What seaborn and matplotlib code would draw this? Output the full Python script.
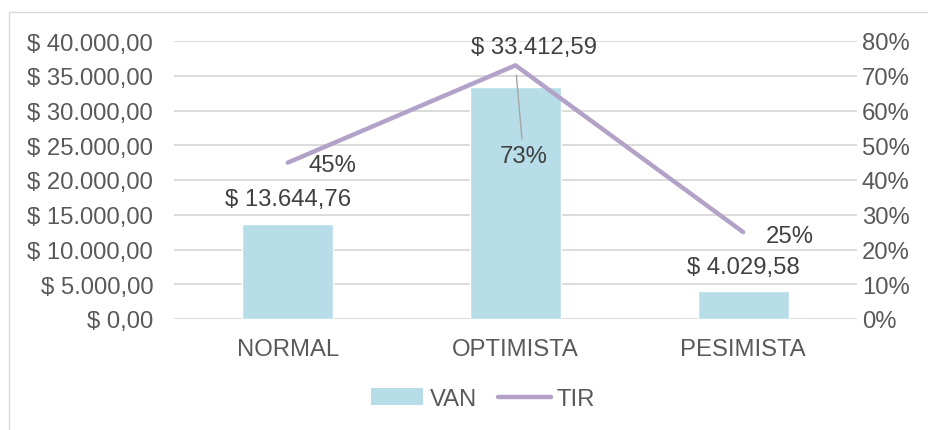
import matplotlib
matplotlib.use("Agg")
import matplotlib.pyplot as plt
from matplotlib.patches import Rectangle, Patch
from matplotlib.lines import Line2D
from matplotlib.ticker import FuncFormatter, MultipleLocator
import seaborn as sns
import pandas as pd

escenarios = ["NORMAL", "OPTIMISTA", "PESIMISTA"]
van = [13644.76, 33412.59, 4029.58]
tir = [0.45, 0.73, 0.25]

BAR_COLOR = "#b7dde8"
LINE_COLOR = "#b3a2c7"
TEXT_COLOR = "#404040"
TICK_COLOR = "#595959"
GRID_COLOR = "#d9d9d9"
FS = 17.2

sns.set_theme(style="white")
plt.rcParams["font.family"] = ["Liberation Sans", "DejaVu Sans"]


def moneda(v):
    s = f"{v:,.2f}"
    s = s.replace(",", "X").replace(".", ",").replace("X", ".")
    return f"$ {s}"


df = pd.DataFrame({"pos": range(len(escenarios)), "escenario": escenarios,
                   "VAN": van, "TIR": tir})

fig = plt.figure(figsize=(9.29, 4.31), dpi=100)
fig.patches.append(Rectangle((9 / 929, -0.05), 1.2, 1 - 13 / 431 + 0.05,
                             transform=fig.transFigure, fill=False,
                             edgecolor="#d9d9d9", linewidth=1.0))

ax = fig.add_axes([174 / 929, 1 - 320 / 431, (857 - 174) / 929, (320 - 42) / 431])
sns.barplot(data=df, x="pos", y="VAN", color=BAR_COLOR, width=0.4,
            saturation=1, ax=ax)
ax.set_ylim(0, 40000)
ax.set_xlim(-0.5, 2.5)
ax.yaxis.set_major_locator(MultipleLocator(5000))
ax.yaxis.set_major_formatter(FuncFormatter(lambda v, p: moneda(v)))
ax.set_xticks(range(len(escenarios)))
ax.set_xticklabels(escenarios)
ax.set_xlabel("")
ax.set_ylabel("")
ax.grid(axis="y", color=GRID_COLOR, linewidth=1.3)
ax.set_axisbelow(True)
for s in ax.spines.values():
    s.set_visible(False)
ax.tick_params(axis="both", length=0, labelsize=FS, colors=TICK_COLOR)
ax.tick_params(axis="x", pad=14)
ax.tick_params(axis="y", pad=15)

# value labels for VAN (offsets in data units)
van_lbl = [(0.0, 3620), (0.08, 5725), (0.0, 3450)]
for i, v in enumerate(van):
    dx, dy = van_lbl[i]
    ax.text(i + dx, v + dy, moneda(v), ha="center", va="center",
            fontsize=FS, color=TEXT_COLOR)

ax2 = ax.twinx()
sns.lineplot(data=df, x="pos", y="TIR", color=LINE_COLOR, linewidth=3.2,
             ax=ax2, solid_capstyle="round")
ax2.set_ylim(0, 0.8)
ax2.set_xlim(-0.5, 2.5)
ax2.yaxis.set_major_locator(MultipleLocator(0.1))
ax2.yaxis.set_major_formatter(FuncFormatter(lambda v, p: f"{v * 100:.0f}%"))
ax2.set_xlabel("")
ax2.set_ylabel("")
for s in ax2.spines.values():
    s.set_visible(False)
ax2.tick_params(axis="both", length=0, labelsize=FS, colors=TICK_COLOR)
ax2.tick_params(axis="y", pad=3.5)

ax2.text(0 + 0.197, tir[0] - 0.006, f"{tir[0]:.0%}", ha="center", va="center",
         fontsize=FS, color=TEXT_COLOR)
ax2.annotate(f"{tir[1]:.0%}", xy=(1, tir[1]), xytext=(1 + 0.035, tir[1] - 0.261),
             ha="center", va="center", fontsize=FS, color=TEXT_COLOR,
             arrowprops=dict(arrowstyle="-", color="#a6a6a6", lw=1.0,
                             shrinkA=2, shrinkB=-7))
ax2.text(2 + 0.205, tir[2] - 0.01, f"{tir[2]:.0%}", ha="center", va="center",
         fontsize=FS, color=TEXT_COLOR)

handles = [Patch(facecolor=BAR_COLOR, edgecolor="none"),
           Line2D([0], [0], color=LINE_COLOR, linewidth=3.2, solid_capstyle="round")]
fig.legend(handles, ["VAN", "TIR"], loc="center", bbox_to_anchor=(483 / 929, 1 - 400 / 431),
           ncol=2, frameon=False, fontsize=FS, handlelength=2.2, handleheight=0.75,
           columnspacing=0.9, handletextpad=0.25, labelcolor=TICK_COLOR)

fig.savefig("out.png", dpi=100)
